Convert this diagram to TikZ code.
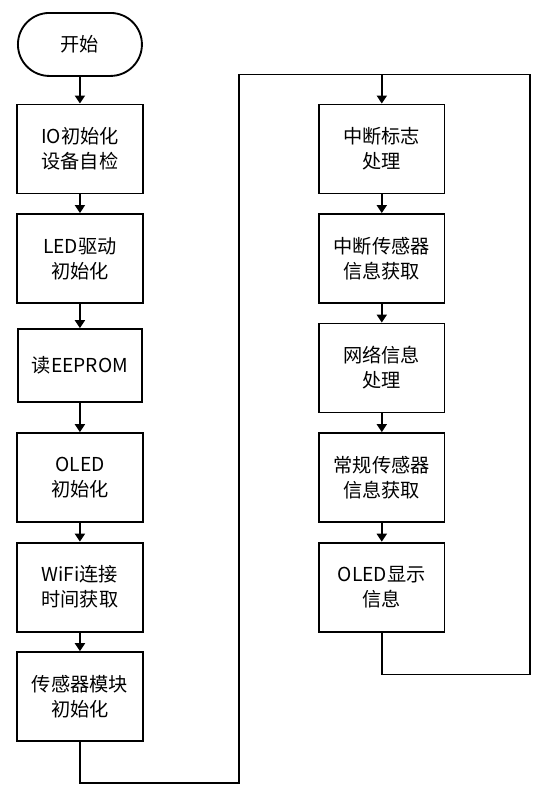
\documentclass[tikz,border=0pt]{standalone}
\usepackage{fontspec}
\setmainfont{Noto Sans CJK SC}
\usetikzlibrary{matrix,positioning,arrows.meta,calc}

\begin{document}
\begin{tikzpicture}[
plain/.style={
  draw=none,
  fill=none,
  },
terminal/.style={
  rounded corners=23.6pt,
  minimum height=47.25pt
  },
shortbox/.style={
  minimum height=54.75pt
  },
flow/.style={
  matrix of nodes,
  nodes={
    draw,
    line width=1.4pt,
    minimum width=93pt,
    minimum height=66.75pt,
    inner sep=2pt,
    font=\fontsize{14.4pt}{18.75pt}\selectfont
    },
  column sep=131pt,
  row sep=14pt
  },
line width=1.4pt,
>={Triangle[width=7.5pt,length=6pt]}
]
\matrix[flow] (mat)
{
|[terminal]| 开始 & \\[6pt]
\parbox{90pt}{\centering IO初始化\\ 设备自检} & \parbox{90pt}{\centering 中断标志\\ 处理} \\
\parbox{90pt}{\centering LED驱动\\ 初始化} & \parbox{90pt}{\centering 中断传感器\\ 信息获取} \\
|[shortbox]| 读EEPROM & \parbox{90pt}{\centering 网络信息\\ 处理} \\
\parbox{90pt}{\centering OLED\\ 初始化} & \parbox{90pt}{\centering 常规传感器\\ 信息获取} \\
\parbox{90pt}{\centering WiFi连接\\ 时间获取} & \parbox{90pt}{\centering OLED显示\\ 信息} \\
\parbox{90pt}{\centering 传感器模块\\ 初始化} & \\
};
\foreach \ai/\aii in {1/2,2/3,3/4,4/5,5/6,6/7}
  \draw[->] (mat-\ai-1) -- (mat-\aii-1);
\foreach \ai/\aii in {2/3,3/4,4/5,5/6}
  \draw[->] (mat-\ai-2) -- (mat-\aii-2);

% loop back to the top of the right column
\coordinate (top) at ($(mat-2-2.north)+(0,21.75pt)$);
\coordinate (lb) at ($(mat-7-1.south)+(0,-30.75pt)$);
\coordinate (lc) at ($(mat-7-1.south)+(119.25pt,0)$);
\coordinate (rb) at ($(mat-6-2.south)+(0,-31.5pt)$);
\coordinate (rc) at ($(mat-6-2.south)+(111.4pt,0)$);
\draw (mat-7-1.south) -- (lb) -| (lc |- top) -- (top);
\draw (mat-6-2.south) -- (rb) -| (rc |- top) -- (top);
\draw[->] (top) -- (mat-2-2.north);

\useasboundingbox ($(mat-1-1.north west)+(-12.75pt,9pt)$) rectangle +(412.5pt,-600.75pt);
\end{tikzpicture}
\end{document}
